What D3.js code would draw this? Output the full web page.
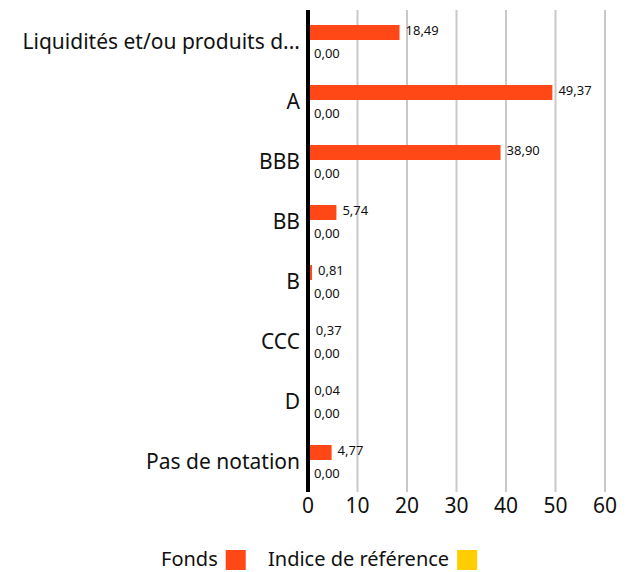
<!DOCTYPE html>
<html>
<head>
<meta charset="utf-8">
<script src="https://cdn.jsdelivr.net/npm/d3@7"></script>
<style>
  body { margin: 0; background: #fff; }
  text { font-family: "Noto Sans", sans-serif; fill: #111; }
</style>
</head>
<body>
<div id="chart"></div>
<script>
// categories and values
const categories = ["Liquidités et/ou produits dérivés", "A", "BBB", "BB", "B", "CCC", "D", "Pas de notation"];
const fonds = [18.49, 49.37, 38.90, 5.74, 0.81, 0.37, 0.04, 4.77];
const indice = [0, 0, 0, 0, 0, 0, 0, 0];
const xTicks = [0, 10, 20, 30, 40, 50, 60];
const seriesNames = ["Fonds", "Indice de référence"];
const seriesColors = ["#ff4815", "#ffcd00"];

const width = 634, height = 572;
const margin = { top: 10, right: 29, bottom: 82, left: 308 };

const svg = d3.select("#chart").append("svg")
    .attr("width", width)
    .attr("height", height);

const x = d3.scaleLinear()
    .domain([0, 60])
    .range([margin.left, width - margin.right]);

const y = d3.scaleBand()
    .domain(categories)
    .range([margin.top, height - margin.bottom])
    .paddingInner(0.5)
    .paddingOuter(0.25);

const ySub = d3.scaleBand()
    .domain(seriesNames)
    .range([0, y.bandwidth()]);

const fmt = v => d3.format(".2f")(v).replace(".", ",");

// grid lines
svg.append("g")
    .selectAll("line")
    .data(xTicks.slice(1))
    .join("line")
    .attr("x1", d => x(d))
    .attr("x2", d => x(d))
    .attr("y1", margin.top)
    .attr("y2", height - margin.bottom + 2)
    .attr("stroke", "#c9c9c9")
    .attr("stroke-width", 2);

// tick labels
svg.append("g")
    .selectAll("text")
    .data(xTicks)
    .join("text")
    .attr("x", d => x(d))
    .attr("y", height - margin.bottom + 16)
    .attr("dy", "0.35em")
    .attr("text-anchor", "middle")
    .style("font-size", "21px")
    .text(d => d);

const rows = categories.map((c, i) => ({ cat: c, vals: [fonds[i], indice[i]] }));

const group = svg.append("g")
    .selectAll("g")
    .data(rows)
    .join("g")
    .attr("transform", d => `translate(0,${y(d.cat)})`);

group.selectAll("rect")
    .data(d => d.vals.map((v, j) => ({ v, s: seriesNames[j], c: seriesColors[j] })))
    .join("rect")
    .attr("x", x(0))
    .attr("y", d => ySub(d.s))
    .attr("width", d => x(d.v) - x(0))
    .attr("height", ySub.bandwidth())
    .attr("fill", d => d.c);

// value labels
group.selectAll("text.val")
    .data(d => d.vals.map((v, j) => ({ v, s: seriesNames[j], j })))
    .join("text")
    .attr("class", "val")
    .attr("x", d => x(d.v) + 6)
    .attr("y", d => ySub(d.s) + (d.j === 0 ? 5 : 13))
    .attr("dy", "0.35em")
    .style("font-size", "13px")
    .text(d => fmt(d.v));

// category labels, truncated like the original
const maxLabel = 284;
svg.append("g")
    .selectAll("text")
    .data(categories)
    .join("text")
    .attr("x", margin.left - 8)
    .attr("y", d => y(d) + y.bandwidth() / 2 + 2)
    .attr("dy", "0.35em")
    .attr("text-anchor", "end")
    .style("font-size", "21px")
    .text(d => d)
    .each(function(d) {
        const t = d3.select(this);
        let s = d;
        while (this.getComputedTextLength() > maxLabel && s.length > 1) {
            s = s.slice(0, -1);
            t.text(s.trimEnd() + "...");
        }
    });

// axis line
svg.append("line")
    .attr("x1", x(0))
    .attr("x2", x(0))
    .attr("y1", margin.top)
    .attr("y2", height - margin.bottom + 2)
    .attr("stroke", "#000")
    .attr("stroke-width", 4);

// legend
const legend = svg.append("g");
const legendX = [161, 268];
seriesNames.forEach((name, i) => {
    const t = legend.append("text")
        .attr("x", legendX[i])
        .attr("y", 559)
        .attr("dy", "0.35em")
        .style("font-size", "20px")
        .text(name);
    const w = t.node().getComputedTextLength();
    legend.append("rect")
        .attr("x", legendX[i] + w + 8)
        .attr("y", 550)
        .attr("width", 20)
        .attr("height", 20)
        .attr("fill", seriesColors[i]);
});
</script>
</body>
</html>
